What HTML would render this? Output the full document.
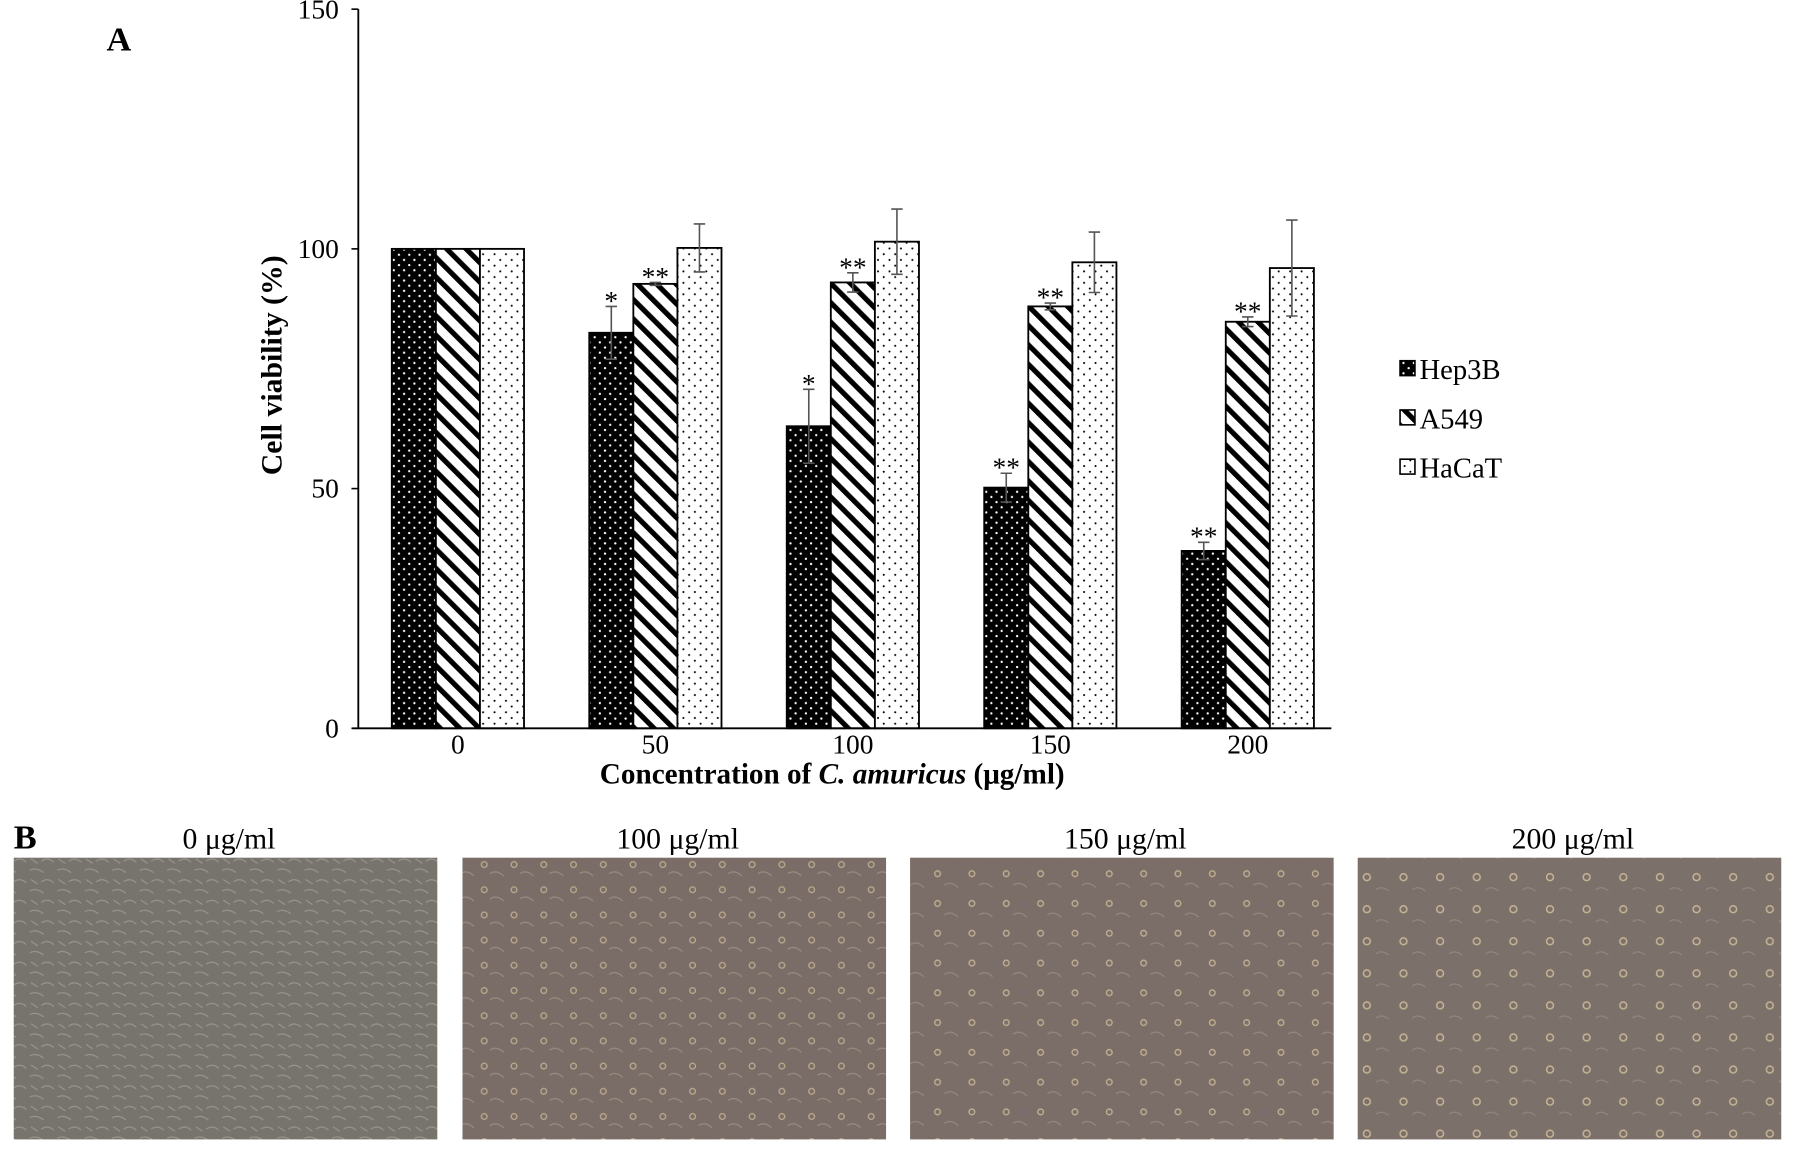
<!DOCTYPE html>
<html><head><meta charset="utf-8"><style>
html,body{margin:0;padding:0;background:#fff;}
svg{display:block;font-family:"Liberation Serif",serif;}
</style></head><body>
<svg id="fig" width="1795" height="1152" viewBox="0 0 1568 1006" preserveAspectRatio="none" xmlns="http://www.w3.org/2000/svg">
<defs>
<pattern id="pHep" width="9" height="9" patternUnits="userSpaceOnUse"><rect width="9" height="9" fill="#000"/><circle cx="2" cy="2" r="1" fill="#fff"/><circle cx="6.5" cy="6.5" r="1" fill="#fff"/></pattern>
<pattern id="pA549" width="12" height="12" patternUnits="userSpaceOnUse" patternTransform="rotate(-45)"><rect width="12" height="12" fill="#fff"/><rect x="0" y="0" width="4.5" height="12" fill="#000"/></pattern>
<pattern id="pHa" width="10" height="10" patternUnits="userSpaceOnUse"><rect width="10" height="10" fill="#fff"/><circle cx="2" cy="2" r="0.9" fill="#000"/><circle cx="7" cy="7" r="0.9" fill="#000"/></pattern>
<pattern id="cells0" width="24" height="18" patternUnits="userSpaceOnUse"><rect width="24" height="18" fill="#77736d"/><path d="M2 4 Q8 1 14 6 M12 14 Q18 10 23 15 M3 12 L9 16" stroke="#9a958b" stroke-width="1" fill="none"/></pattern>
<pattern id="cells1" width="26" height="22" patternUnits="userSpaceOnUse"><rect width="26" height="22" fill="#7a6c66"/><circle cx="7" cy="7" r="2.5" fill="none" stroke="#b8a88c" stroke-width="1.2"/><path d="M12 15 Q18 11 24 17" stroke="#9a8c80" fill="none"/></pattern>
<pattern id="cells2" width="30" height="26" patternUnits="userSpaceOnUse"><rect width="30" height="26" fill="#7b6e68"/><circle cx="9" cy="9" r="2.5" fill="none" stroke="#c0ae90" stroke-width="1.2"/><path d="M15 19 Q21 15 27 21" stroke="#978a80" fill="none"/></pattern>
<pattern id="cells3" width="32" height="28" patternUnits="userSpaceOnUse"><rect width="32" height="28" fill="#7c706a"/><circle cx="10" cy="10" r="3" fill="none" stroke="#c6b494" stroke-width="1.3"/><path d="M18 21 Q23 17 29 22" stroke="#958880" fill="none"/></pattern>
</defs>
<g id="chart"></g>
<text x="93" y="44" font-size="30" font-weight="bold">A</text>
<text x="12" y="741" font-size="30" font-weight="bold">B</text>
<g id="photos"></g>
</svg>
<script>
const categories = ["0","50","100","150","200"];
const seriesNames = ["Hep3B","A549","HaCaT"];
const hep3b = [100, 82.5, 63, 50.2, 37];
const a549 = [100, 92.7, 93, 88, 84.8];
const hacat = [100, 100.2, 101.5, 97.2, 96];
const hep3bErr = [0, 5.5, 7.7, 3, 1.8];
const a549Err = [0, 0.3, 2, 0.7, 1];
const hacatErr = [0, 5, 6.8, 6.3, 10];
const hep3bSig = ["", "*", "*", "**", "**"];
const a549Sig = ["", "**", "**", "**", "**"];
const hacatSig = ["", "", "", "", ""];
const yTicks = [0, 50, 100, 150];
const photoLabels = ["0 μg/ml","100 μg/ml","150 μg/ml","200 μg/ml"];

const NS = "http://www.w3.org/2000/svg";
const chart = document.getElementById('chart');
const X0 = 313, X1 = 1163, Y0 = 636, Ytop = 8, YMAX = 150;
const y = v => Y0 - (v / YMAX) * (Y0 - Ytop);
const groupW = 172.5;
const xc = i => 400 + groupW * i;
const barW = 38.5;
function mk(tag, attrs, parent) {
  const e = document.createElementNS(NS, tag);
  for (const k in attrs) e.setAttribute(k, attrs[k]);
  (parent || chart).appendChild(e);
  return e;
}
let ax = mk('line', {x1: X0, y1: Ytop, x2: X0, y2: Y0, stroke: '#000', 'stroke-width': 1.6});


yTicks.forEach(t => {
  const tk = mk('line', {x1: X0 - 6, y1: y(t), x2: X0, y2: y(t), stroke: '#000', 'stroke-width': 1.4});
  
  
  const tl = mk('text', {x: X0 - 17, y: y(t) + 8, 'font-size': 24, 'text-anchor': 'end'});
  tl.textContent = t;
  
  
});
const series = [
  {v: hep3b, e: hep3bErr, s: hep3bSig, fill: 'url(#pHep)'},
  {v: a549, e: a549Err, s: a549Sig, fill: 'url(#pA549)'},
  {v: hacat, e: hacatErr, s: hacatSig, fill: 'url(#pHa)'}
];
categories.forEach((c, i) => {
  series.forEach((s, j) => {
    const bx = xc(i) - 1.5 * barW + j * barW;
    const r = mk('rect', {x: bx, y: y(s.v[i]), width: barW, height: Y0 - y(s.v[i]), fill: s.fill, stroke: '#000', 'stroke-width': 1.6});
    
    
    const cx = bx + barW / 2;
    if (s.e[i] > 0) {
      const hi = y(s.v[i] + s.e[i]), lo = y(s.v[i] - s.e[i]);
      const eb = mk('path', {d: `M${cx} ${hi}V${lo}M${cx-5} ${hi}H${cx+5}M${cx-5} ${lo}H${cx+5}`, stroke: '#555', 'stroke-width': 1.4, fill: 'none'});
      
      
    }
    if (s.s[i]) {
      const st = mk('text', {x: cx, y: y(s.v[i] + s.e[i]) + 3, 'font-size': 24, 'text-anchor': 'middle'});
      st.textContent = s.s[i];
      
      
    }
  });
  const xl = mk('text', {x: xc(i), y: Y0 + 22, 'font-size': 24, 'text-anchor': 'middle'});
  xl.textContent = c;
  
  
});
ax = mk('line', {x1: X0 - 5, y1: Y0, x2: X1, y2: Y0, stroke: '#000', 'stroke-width': 1.6});


const yt = mk('text', {x: 0, y: 0, 'font-size': 26, 'font-weight': 'bold', 'text-anchor': 'middle', transform: 'translate(246 319) rotate(-90)'});
yt.textContent = 'Cell viability (%)';


const xt = mk('text', {x: 727, y: 684, 'font-size': 25.5, 'font-weight': 'bold', 'text-anchor': 'middle'});
xt.innerHTML = 'Concentration of <tspan font-style="italic">C. amuricus</tspan> (μg/ml)';


series.forEach((s, j) => {
  const ly = 322 + j * 43;
  const lr = mk('rect', {x: 1223, y: ly - 7, width: 13, height: 13, fill: s.fill, stroke: '#000', 'stroke-width': 1.4});
  
  
  const lt = mk('text', {x: 1240, y: ly + 9, 'font-size': 25});
  lt.textContent = seriesNames[j];
  
  
});
const photos = document.getElementById('photos');
const px = [12, 404, 795, 1186];
photoLabels.forEach((l, i) => {
  const r = mk('rect', {x: px[i], y: 749, width: 370, height: 246, fill: `url(#cells${i})`}, photos);
  
  
  const t = mk('text', {x: px[i] + 188, y: 741, 'font-size': 26, 'text-anchor': 'middle'}, photos);
  t.textContent = l;
  
  
});
</script>
</body></html>
